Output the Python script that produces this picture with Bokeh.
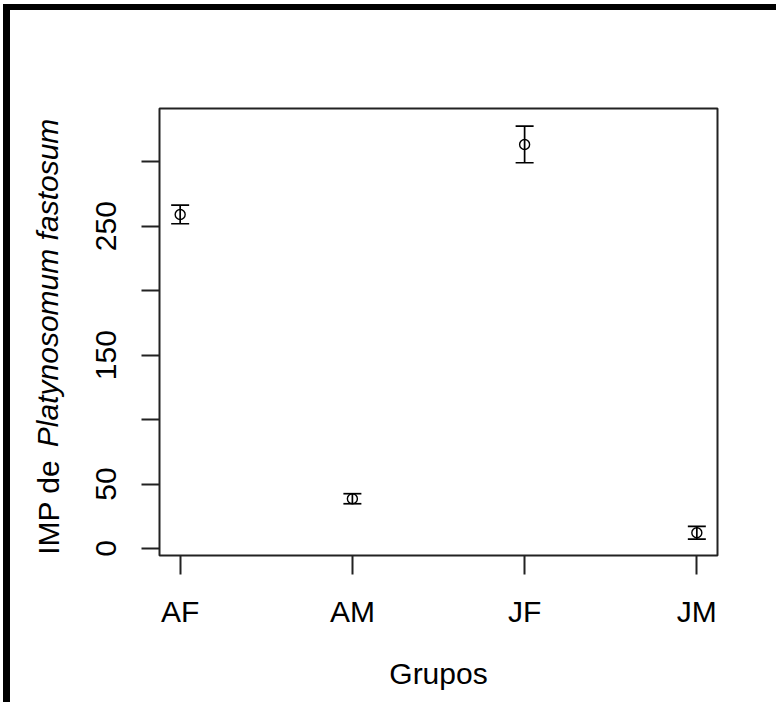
from bokeh.plotting import figure
from bokeh.models import Range1d, FixedTicker, Whisker, ColumnDataSource, TeeHead, LinearAxis
from bokeh.embed import file_html
from bokeh.resources import INLINE

# ---- data ----
groups = ["AF", "AM", "JF", "JM"]
positions = [1, 2, 3, 4]
means = [259.1, 38.6, 313.4, 12.2]
errors = [7.2, 3.9, 14.2, 5.0]
y_ticks = [0, 50, 100, 150, 200, 250, 300]
y_tick_labels = ["0", "50", "", "150", "", "250", ""]
x_title = "Grupos"
y_title_plain = "IMP de"
y_title_italic = "Platynosomum fastosum"

lower = [m - e for m, e in zip(means, errors)]
upper = [m + e for m, e in zip(means, errors)]
src = ColumnDataSource(dict(x=positions, y=means, lower=lower, upper=upper))

FONT = "Liberation Sans"
FS = "30px"

W, H = 773, 698
ML, MR, MT, MB = 149, 66, 98, 153

x0, x1 = 0.88, 4.12
y0, y1 = -5.44, 341.3

p = figure(width=W, height=H, output_backend="svg", toolbar_location=None,
           x_range=Range1d(x0, x1), y_range=Range1d(y0, y1),
           min_border_left=ML, min_border_right=MR, min_border_top=MT, min_border_bottom=MB,
           background_fill_color="white", border_fill_color="white",
           styles={"margin-left": "3px", "margin-top": "4px",
                   "border-left": "7px solid black", "border-top": "6px solid black"})
p.grid.visible = False
p.outline_line_color = "#222222"
p.outline_line_width = 2

for ax in (p.xaxis[0], p.yaxis[0]):
    ax.axis_line_color = None
    ax.major_tick_line_color = "#222222"
    ax.major_tick_line_width = 2
    ax.major_tick_in = 0
    ax.minor_tick_line_color = None
    ax.major_label_text_font = FONT
    ax.major_label_text_font_size = FS
    ax.major_label_text_color = "black"
    ax.axis_label_text_font = FONT
    ax.axis_label_text_font_size = FS
    ax.axis_label_text_font_style = "normal"
    ax.axis_label_text_color = "black"

p.xaxis.ticker = FixedTicker(ticks=positions)
p.xaxis.major_label_overrides = {pos: g for pos, g in zip(positions, groups)}
p.xaxis.major_tick_out = 19
p.xaxis.major_label_standoff = 20
p.xaxis.axis_label = x_title
p.xaxis.axis_label_standoff = 26

p.yaxis.ticker = FixedTicker(ticks=y_ticks)
p.yaxis.major_label_overrides = {t: l for t, l in zip(y_ticks, y_tick_labels)}
p.yaxis.major_tick_out = 18
p.yaxis.major_label_standoff = 25
p.yaxis.major_label_orientation = "vertical"

# y-axis title in two styles, written as labels of two tick-less axes
# placed on the same line (centres of each part along the axis)
title_plain_at = 32
title_italic_at = 206
for txt, at, style, standoff in ((y_title_plain, title_plain_at, "normal", 28),
                                 (y_title_italic, title_italic_at, "italic", -35)):
    ax = LinearAxis(ticker=FixedTicker(ticks=[at]),
                    major_label_overrides={at: txt},
                    axis_line_color=None, major_tick_line_color=None,
                    minor_tick_line_color=None, major_tick_out=0, major_tick_in=0,
                    major_label_standoff=standoff,
                    major_label_orientation="vertical",
                    major_label_text_font=FONT, major_label_text_font_size=FS,
                    major_label_text_font_style=style, major_label_text_color="black")
    p.add_layout(ax, "left")

wh = Whisker(base="x", lower="lower", upper="upper", source=src, dimension="height",
             line_color="black", line_width=1.7,
             lower_head=TeeHead(size=18, line_color="black", line_width=1.7),
             upper_head=TeeHead(size=18, line_color="black", line_width=1.7))
p.add_layout(wh)

p.scatter("x", "y", source=src, marker="circle", size=10, fill_color=None,
          line_color="black", line_width=1.4)

open("out.html", "w").write(file_html(p, INLINE))
